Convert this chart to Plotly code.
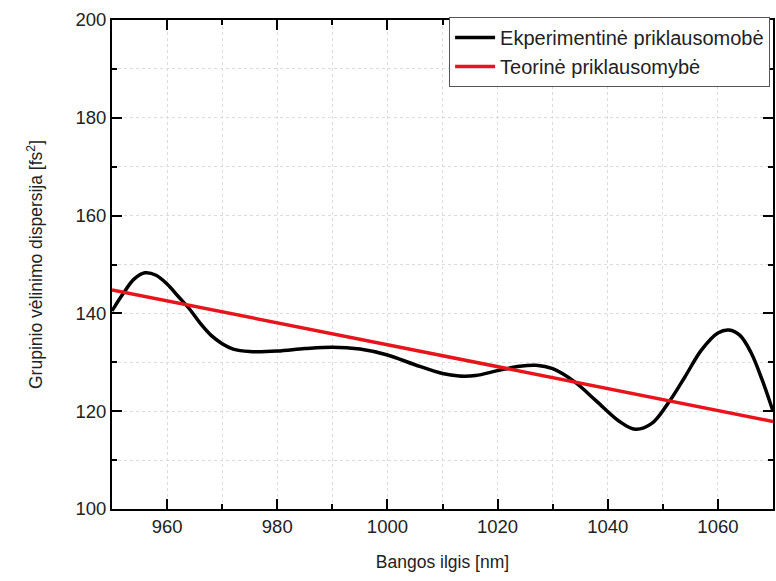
import plotly.graph_objects as go

# Experimental curve (wavelength nm, GDD fs^2)
exp_x = [950, 952, 954, 956, 958, 960, 962, 964, 966, 968, 970, 972, 975, 980, 985, 990, 995,
         1000, 1005, 1010, 1013, 1016, 1020, 1024, 1027, 1030, 1034, 1038, 1042, 1045, 1048,
         1051, 1054, 1057, 1060, 1062, 1064, 1066, 1068, 1070]
exp_y = [140.5, 144.0, 147.0, 148.3, 147.8, 146.0, 143.5, 141.0, 138.0, 135.5, 133.8, 132.7, 132.2,
         132.3, 132.8, 133.1, 132.7, 131.5, 129.5, 127.7, 127.2, 127.3, 128.3, 129.2, 129.4, 128.7,
         126.0, 122.0, 118.0, 116.3, 117.5, 121.7, 127.0, 132.5, 136.0, 136.6, 135.5, 132.0, 126.5, 120.0]

# Theoretical line
th_x = [950, 1070]
th_y = [144.8, 117.9]

name_exp = "Ekperimentinė priklausomobė"
name_th = "Teorinė priklausomybė"

FONT = "Arial, Liberation Sans, sans-serif"

fig = go.Figure()
fig.add_trace(go.Scatter(x=exp_x, y=exp_y, mode="lines", name=name_exp,
                         line=dict(color="black", width=3.5, shape="spline", smoothing=1.0)))
fig.add_trace(go.Scatter(x=th_x, y=th_y, mode="lines", name=name_th,
                         line=dict(color="#e8141b", width=3.5)))

GRID = "#dcdcdc"
axis_common = dict(
    showline=True, linecolor="black", linewidth=1.8, mirror="ticks",
    ticks="inside", ticklen=10, tickwidth=1.5, tickcolor="black",
    showgrid=True, gridcolor=GRID, griddash="dot", gridwidth=1,
    zeroline=False,
    tickfont=dict(family=FONT, size=18.5, color="#222"),
    title_font=dict(family=FONT, size=17.5, color="#222"),
)

fig.update_xaxes(range=[950, 1070], dtick=20, tick0=960,
                 minor=dict(dtick=10, ticks="inside", ticklen=5, tickwidth=1.5, tickcolor="black",
                            showgrid=True, gridcolor=GRID, griddash="dot"),
                 title_text="Bangos ilgis [nm]", title_standoff=20, **axis_common)
fig.update_yaxes(range=[100, 200], dtick=20,
                 minor=dict(dtick=10, ticks="inside", ticklen=5, tickwidth=1.5, tickcolor="black",
                            showgrid=True, gridcolor=GRID, griddash="dot"),
                 title_text="Grupinio vėlinimo dispersija [fs<sup>2</sup>]", title_standoff=28,
                 **axis_common)

fig.update_layout(
    width=776, height=581,
    margin=dict(l=112, r=1, t=20, b=72),
    paper_bgcolor="white", plot_bgcolor="white",
    font=dict(family=FONT, color="#222"),
    legend=dict(x=0.51, y=1.006, xanchor="left", yanchor="top",
                bordercolor="#555", borderwidth=1, bgcolor="white",
                font=dict(family=FONT, size=20, color="#222"),
                itemwidth=40, tracegroupgap=0),
    showlegend=True,
)

fig.write_html("out.html")
